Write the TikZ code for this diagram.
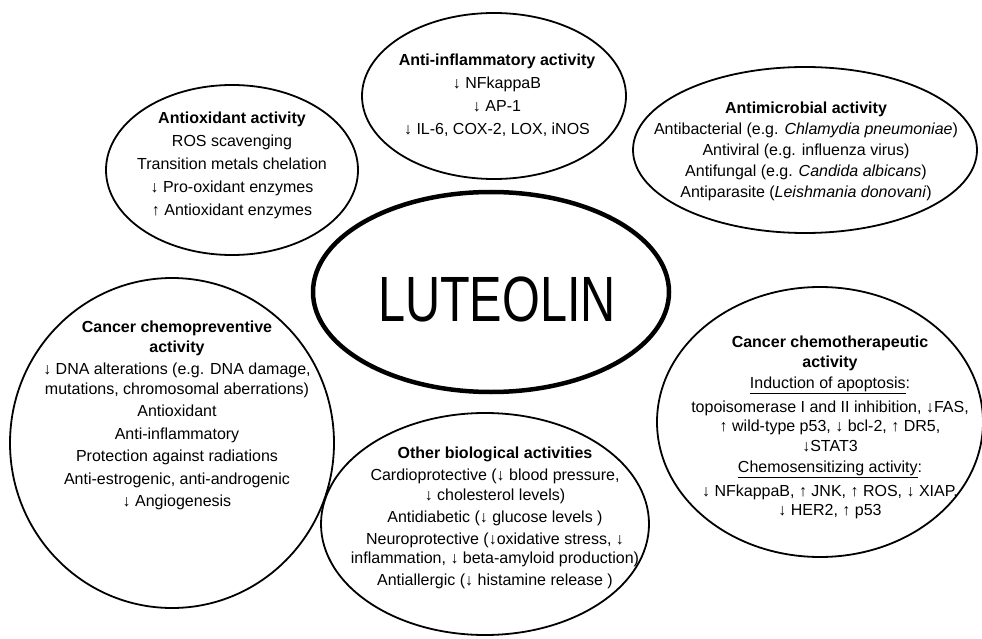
\documentclass[tikz,border=0pt]{standalone}
\usepackage{fontspec}
\setmainfont{Liberation Sans}
\usetikzlibrary{shapes.geometric}
\begin{document}
\begin{tikzpicture}[x=1pt,y=-1pt,
  bubble/.style={draw, ellipse, line width=1.8pt, inner sep=0pt, outer sep=0pt},
  txt/.style={align=center, inner sep=0pt, anchor=north, font=\fontsize{16}{19.5}\selectfont},
]
\fill[white] (0,0) rectangle (982,639);
\useasboundingbox (0,0) rectangle (982,639);

% ellipses
\node[bubble, minimum width=252pt, minimum height=170pt] (antiox) at (232,170) {};
\node[bubble, minimum width=264pt, minimum height=166pt] (inflam) at (494,96) {};
\node[bubble, minimum width=344pt, minimum height=166pt] (microb) at (805,150) {};
\node[bubble, line width=4.5pt, minimum width=356pt, minimum height=200pt] (lut) at (491,292) {};
\node[bubble, minimum width=324pt, minimum height=330pt] (prev) at (172,443) {};
\node[bubble, minimum width=326pt, minimum height=270pt] (ther) at (820,422) {};
\node[bubble, minimum width=328pt, minimum height=222pt] (other) at (485,524) {};

% texts
\node[inner sep=0pt] (luttxt) at (497,299) {\scalebox{0.76}[1]{\fontsize{64}{64}\selectfont LUTEOLIN}};

\node[txt] (antioxtxt) at (232,112) {\textbf{Antioxidant activity}\\[3.5pt]
ROS scavenging\\[3.5pt]
Transition metals chelation\\[3.5pt]
↓ Pro-oxidant enzymes\\[3.5pt]
↑ Antioxidant enzymes};

\node[txt] (inflamtxt) at (497,54) {\textbf{Anti-inflammatory activity}\\[3.5pt]
↓ NFkappaB\\[3.5pt]
↓ AP-1\\[3.5pt]
↓ IL-6, COX-2, LOX, iNOS};

\node[txt] (microbtxt) at (806,102) {\textbf{Antimicrobial activity}\\[1.5pt]
Antibacterial (e.g. \textit{Chlamydia pneumoniae})\\[1.5pt]
Antiviral (e.g. influenza virus)\\[1.5pt]
Antifungal (e.g. \textit{Candida albicans})\\[1.5pt]
Antiparasite (\textit{Leishmania donovani})};

\node[txt] (prevtxt) at (177,321) {\textbf{Cancer chemopreventive}\\
\textbf{activity}\\[3pt]
↓ DNA alterations (e.g. DNA damage,\\
mutations, chromosomal aberrations)\\[3pt]
Antioxidant\\[3pt]
Anti-inflammatory\\[3pt]
Protection against radiations\\[3pt]
Anti-estrogenic, anti-androgenic\\[3pt]
↓ Angiogenesis};

\node[txt] (thertxt) at (830,336) {\textbf{Cancer chemotherapeutic}\\
\textbf{activity}\\[2pt]
\underline{Induction of apoptosis}:\\[4pt]
topoisomerase I and II inhibition, ↓FAS,\\
↑ wild-type p53, ↓ bcl-2, ↑ DR5,\\
↓STAT3\\[2pt]
\underline{Chemosensitizing activity}:\\[4pt]
↓ NFkappaB, ↑ JNK, ↑ ROS, ↓ XIAP,\\
↓ HER2, ↑ p53};

\node[txt] (othertxt) at (495,447) {\textbf{Other biological activities}\\[2.5pt]
Cardioprotective (↓ blood pressure,\\
↓ cholesterol levels)\\[2.5pt]
Antidiabetic (↓ glucose levels )\\[2.5pt]
Neuroprotective (↓oxidative stress, ↓\\
inflammation, ↓ beta-amyloid production)\\[2.5pt]
Antiallergic (↓ histamine release )};
\end{tikzpicture}
\end{document}
